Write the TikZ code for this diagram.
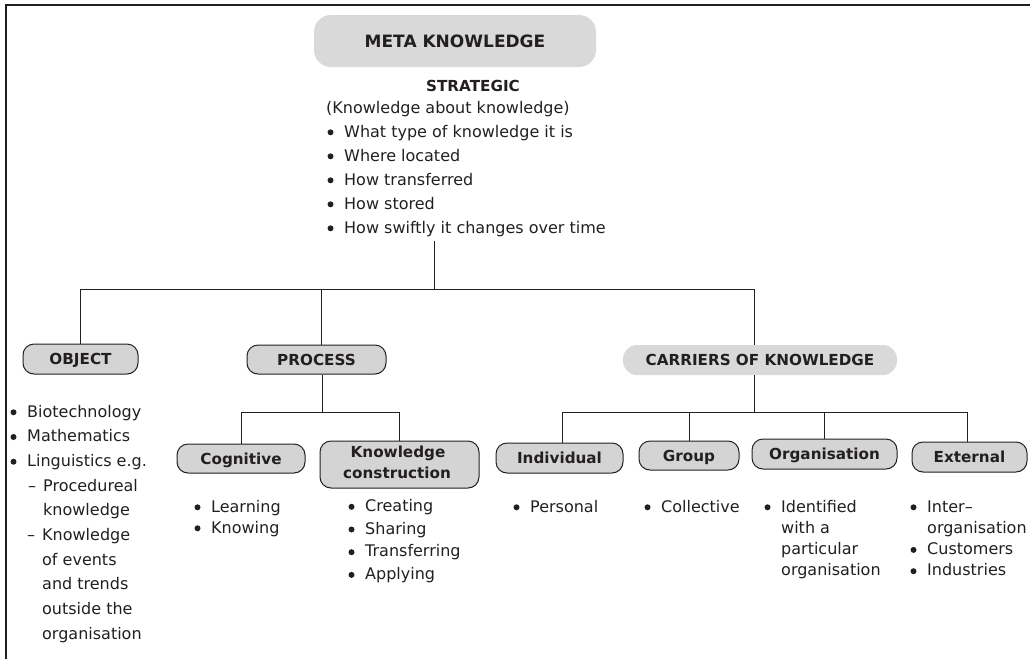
\documentclass[tikz,border=0pt]{standalone}
\usepackage{fontspec}
\setmainfont{DejaVu Sans}
\newcommand\dsh{\llap{–\hspace{7pt}}}
% round bullet to the left of a list line
\newcommand\bulletat[1]{\fill[ink] ([xshift=-13.5pt,yshift=4.7pt]#1.base west) circle (3.0);}
\begin{document}
\begin{tikzpicture}[x=1pt,y=-1pt]
\definecolor{ink}{RGB}{35,31,32}
\definecolor{pillgray}{RGB}{212,212,212}
\definecolor{flatgray}{RGB}{217,217,217}
\tikzset{
  txt/.style={anchor=base west, inner sep=0pt, text=ink, font=\fontsize{16}{19}\selectfont},
  hd/.style={inner sep=0pt, text=ink, font=\fontsize{15.2}{21}\bfseries\selectfont},
  pill/.style={hd, draw=ink, line width=1pt, fill=pillgray, rounded corners=11pt,
    text height=11pt, text depth=0pt},
  flatpill/.style={hd, fill=flatgray, text height=11pt, text depth=0pt},
  conn/.style={draw=ink, line width=0.9pt},
  frame/.style={draw=ink, line width=1.8pt}
}
\useasboundingbox (0,0) rectangle (1030,659);

% page frame (top and left rules)
\draw[frame] (6,659) -- (6,5) -- (1030,5);

% ---- root ----
\node[flatpill, rounded corners=17pt, minimum width=282, minimum height=52,
  font=\fontsize{17}{21}\bfseries\selectfont, text height=12pt] (meta) at (455,41) {META KNOWLEDGE};
\node[hd, anchor=base] (strat) at (473,91) {STRATEGIC};
\node[txt] (about) at (326,113) {(Knowledge about knowledge)};
\node[txt] (m1) at (344,137) {What type of knowledge it is};
\node[txt] (m2) at (344,161) {Where located};
\node[txt] (m3) at (344,185) {How transferred};
\node[txt] (m4) at (344,209) {How stored};
\node[txt] (m5) at (344,233) {How swiftly it changes over time};

% ---- first level ----
\node[pill, minimum width=115, minimum height=30] (object) at (80.5,359) {OBJECT};
\node[pill, minimum width=139, minimum height=29] (process) at (316.5,359.5) {PROCESS};
\node[flatpill, rounded corners=14pt, minimum width=274, minimum height=30] (carriers) at (760,360) {CARRIERS OF KNOWLEDGE};

% object list
\node[txt] (o1) at (27,417) {Biotechnology};
\node[txt] (o2) at (27,441.7) {Mathematics};
\node[txt] (o3) at (27,466.4) {Linguistics e.g.};
\node[txt] (o4) at (43,491.1) {\dsh Procedureal};
\node[txt] (o5) at (43,515.8) {knowledge};
\node[txt] (o6) at (42,540.5) {\dsh Knowledge};
\node[txt] (o7) at (42,565.2) {of events};
\node[txt] (o8) at (42,589.9) {and trends};
\node[txt] (o9) at (42,614.6) {outside the};
\node[txt] (o10) at (42,639.3) {organisation};

% ---- process branch ----
\node[pill, minimum width=128, minimum height=29] (cognitive) at (241,458.5) {Cognitive};
\node[pill, minimum width=159, minimum height=47] (kc) at (399.5,464.5) {};
\node[hd, anchor=base] (kc1) at (398,457) {Knowledge};
\node[hd, anchor=base] (kc2) at (397,478) {construction};

\node[txt] (c1) at (211,512) {Learning};
\node[txt] (c2) at (211,533) {Knowing};
\node[txt] (k1) at (365,511.5) {Creating};
\node[txt] (k2) at (365,534.2) {Sharing};
\node[txt] (k3) at (365,556.9) {Transferring};
\node[txt] (k4) at (365,579.6) {Applying};

% ---- carriers branch ----
\node[pill, minimum width=127, minimum height=30] (individual) at (559.5,458) {Individual};
\node[pill, minimum width=100, minimum height=29] (group) at (689,455.5) {Group};
\node[pill, minimum width=145, minimum height=30] (organisation) at (824.5,454) {Organisation};
\node[pill, minimum width=115, minimum height=30] (external) at (969.5,457) {External};

\node[txt] (i1) at (530,512) {Personal};
\node[txt] (g1) at (661,512) {Collective};
\node[txt] (r1) at (781,512) {Identified};
\node[txt] (r2) at (781,533.3) {with a};
\node[txt] (r3) at (781,554.6) {particular};
\node[txt] (r4) at (781,575.9) {organisation};
\node[txt] (e1) at (927,512) {Inter–};
\node[txt] (e2) at (927,533.3) {organisation};
\node[txt] (e3) at (927,554.6) {Customers};
\node[txt] (e4) at (927,575.9) {Industries};

% bullets
\foreach \n in {m1,m2,m3,m4,m5,o1,o2,o3,c1,c2,k1,k2,k3,k4,i1,g1,r1,e1,e3,e4}
  {\bulletat{\n}}

% ---- connectors ----
\coordinate (stemtop) at (434,241);
\coordinate (hubA) at (434,289);
\coordinate (pA) at ([xshift=4.5]process.north);
\coordinate (cA) at ([xshift=-6]carriers.north);
\draw[conn] (stemtop) -- (hubA);
\draw[conn] (object.north) |- (hubA);
\draw[conn] (cA) |- (hubA);
\draw[conn] (pA) -- (pA |- hubA);

\coordinate (pB) at ([xshift=5.5]process.south);
\coordinate (hubP) at (pB |- 0,412);
\draw[conn] (pB) -- (hubP);
\draw[conn] (cognitive.north) |- (hubP);
\draw[conn] (kc.north) |- (hubP);

\coordinate (cB) at ([xshift=-5.5]carriers.south);
\coordinate (hubC) at (cB |- 0,412);
\coordinate (iA) at ([xshift=2.5]individual.north);
\coordinate (eA) at ([xshift=-2.5]external.north);
\draw[conn] (cB) -- (hubC);
\draw[conn] (iA) |- (hubC);
\draw[conn] (group.north) |- (hubC);
\draw[conn] (organisation.north) |- (hubC);
\draw[conn] (eA) |- (hubC);
\end{tikzpicture}
\end{document}
